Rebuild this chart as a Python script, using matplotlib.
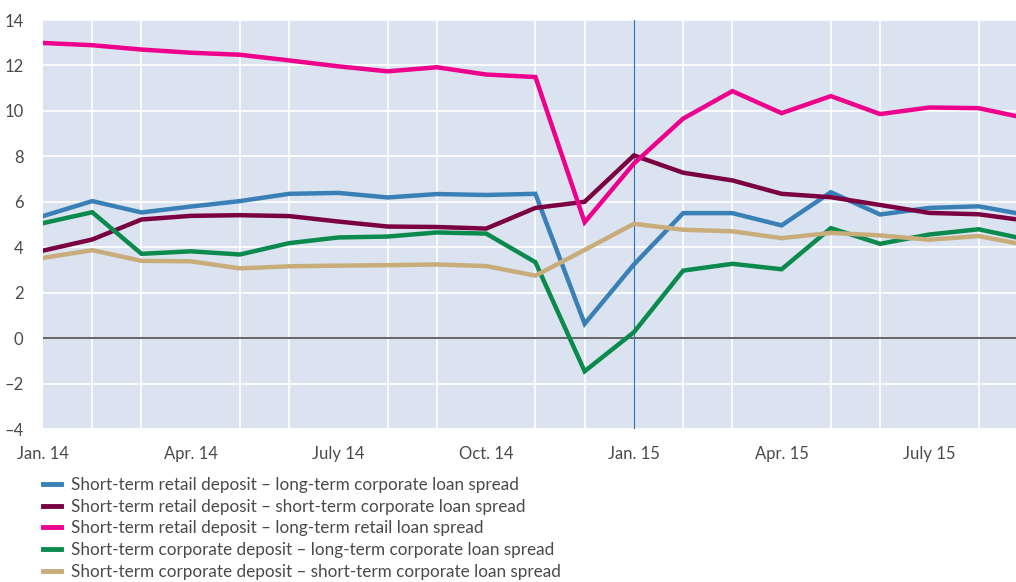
import matplotlib.pyplot as plt
import numpy as np

# months Jan 14 .. Sep 15
months = ["Jan. 14", "Feb. 14", "Mar. 14", "Apr. 14", "May 14", "June 14", "July 14",
          "Aug. 14", "Sep. 14", "Oct. 14", "Nov. 14", "Dec. 14", "Jan. 15", "Feb. 15",
          "Mar. 15", "Apr. 15", "May 15", "June 15", "July 15", "Aug. 15", "Sep. 15"]
tick_labels = ["Jan. 14", "Apr. 14", "July 14", "Oct. 14", "Jan. 15", "Apr. 15", "July 15"]

retail_long_corp = [5.37, 6.03, 5.53, 5.79, 6.03, 6.35, 6.39, 6.19, 6.34, 6.30, 6.35, 0.63,
                    3.24, 5.50, 5.50, 4.96, 6.42, 5.44, 5.73, 5.80, 5.41]
retail_short_corp = [3.85, 4.34, 5.22, 5.38, 5.41, 5.37, 5.13, 4.91, 4.89, 4.82, 5.73, 6.00,
                     8.04, 7.28, 6.94, 6.35, 6.20, 5.86, 5.51, 5.45, 5.16]
retail_long_retail = [12.99, 12.89, 12.70, 12.56, 12.47, 12.22, 11.96, 11.74, 11.92, 11.60, 11.49,
                      5.10, 7.68, 9.66, 10.87, 9.90, 10.65, 9.86, 10.15, 10.12, 9.66]
corp_long_corp = [5.06, 5.54, 3.71, 3.82, 3.68, 4.18, 4.43, 4.47, 4.65, 4.60, 3.34, -1.46,
                  0.26, 2.97, 3.27, 3.03, 4.84, 4.15, 4.56, 4.79, 4.33]
corp_short_corp = [3.53, 3.87, 3.40, 3.38, 3.07, 3.16, 3.19, 3.21, 3.24, 3.17, 2.75, 3.88,
                   5.03, 4.77, 4.70, 4.40, 4.63, 4.52, 4.33, 4.49, 4.08]

series = [
    ("Short-term retail deposit \u2013 long-term corporate loan spread", retail_long_corp, "#3A80B6"),
    ("Short-term retail deposit \u2013 short-term corporate loan spread", retail_short_corp, "#7A0042"),
    ("Short-term retail deposit \u2013 long-term retail loan spread", retail_long_retail, "#EC008C"),
    ("Short-term corporate deposit \u2013 long-term corporate loan spread", corp_long_corp, "#0B8A4E"),
    ("Short-term corporate deposit \u2013 short-term corporate loan spread", corp_short_corp, "#C8AC7A"),
]

plt.rcParams['font.family'] = ['Lato', 'DejaVu Sans']

fig = plt.figure(figsize=(10.16, 5.82), dpi=100, facecolor='white')
ax = fig.add_axes([43 / 1016, 1 - 429 / 582, 1 - 43 / 1016, 409 / 582])
ax.set_facecolor('#DAE3EF')

x = np.arange(len(months))
for label, vals, color in series:
    ax.plot(x, vals, color=color, lw=3.2, label=label, zorder=4, solid_joinstyle='miter')

# grid
ax.set_xticks(x, minor=True)
ax.grid(True, which='minor', axis='x', color='white', lw=1.2, zorder=1)
ax.grid(True, which='major', axis='y', color='white', lw=1.2, zorder=1)
ax.set_axisbelow(True)

ax.axhline(0, color='#5A5A5A', lw=1.3, zorder=3)
ax.axvline(months.index("Jan. 15"), color='#2E75B6', lw=0.8, zorder=3)

ax.set_xlim(0, 19.76)
ax.set_ylim(-4, 14)
ax.set_yticks(np.arange(-4, 15, 2))
ax.set_yticklabels([str(v).replace('-', '\u2013') for v in range(-4, 15, 2)])
ax.set_xticks([months.index(t) for t in tick_labels])
ax.set_xticklabels(tick_labels)

ax.tick_params(axis='both', which='both', length=0, labelsize=12, colors='#4A4A4A')
ax.tick_params(axis='y', pad=14)
ax.tick_params(axis='x', pad=12)
for s in ax.spines.values():
    s.set_visible(False)

leg = fig.legend(loc='upper left', bbox_to_anchor=(0.036, 0.192), frameon=False,
                 fontsize=12.3, handlelength=1.05, handletextpad=0.55, labelspacing=0.33,
                 borderaxespad=0)
for t in leg.get_texts():
    t.set_color('#4A4A4A')
for h in leg.get_lines():
    h.set_linewidth(3.5)

fig.savefig('out.png', dpi=100, facecolor='white')
